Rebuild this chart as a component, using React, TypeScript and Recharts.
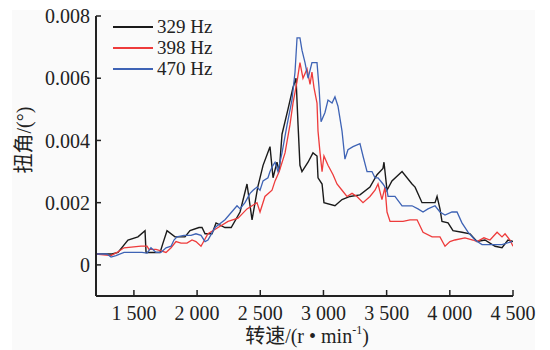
import { LineChart, Line, XAxis, YAxis, Legend, Label } from "recharts";

// rpm, torsion angle (°)
const hz329: [number, number][] = [
  [1200, 0.00035], [1327, 0.00035], [1374, 0.0004], [1453, 0.0008], [1532, 0.0009],
  [1588, 0.0011], [1596, 0.0004], [1707, 0.0004], [1730, 0.0007], [1762, 0.0011],
  [1825, 0.0009], [1904, 0.0009], [1944, 0.0011], [2015, 0.0012], [2039, 0.0012],
  [2063, 0.001], [2118, 0.001], [2150, 0.00135], [2220, 0.0012], [2270, 0.0012],
  [2340, 0.0017], [2395, 0.0026], [2435, 0.00145], [2480, 0.0025], [2522, 0.0032],
  [2577, 0.0038], [2601, 0.0028], [2632, 0.0033], [2650, 0.003], [2672, 0.0042],
  [2719, 0.005], [2759, 0.0057], [2783, 0.006], [2799, 0.0045], [2814, 0.0032],
  [2830, 0.003], [2878, 0.0033], [2917, 0.0036], [2949, 0.0035], [2957, 0.0028],
  [2989, 0.0026], [3004, 0.002], [3091, 0.0019], [3147, 0.0021], [3210, 0.0022],
  [3289, 0.00225], [3368, 0.0025], [3424, 0.0029], [3471, 0.0031], [3479, 0.0033],
  [3503, 0.0024], [3542, 0.0027], [3622, 0.003], [3701, 0.0026], [3725, 0.0025],
  [3780, 0.002], [3883, 0.002], [3899, 0.0022], [3922, 0.0018], [3938, 0.0014],
  [3986, 0.00135], [4025, 0.0011], [4096, 0.00105], [4160, 0.001], [4215, 0.00075],
  [4278, 0.0008], [4358, 0.0006], [4413, 0.00055], [4460, 0.0008], [4500, 0.00075],
];

const hz398: [number, number][] = [
  [1200, 0.00035], [1319, 0.0003], [1366, 0.0004], [1422, 0.00055], [1556, 0.0006],
  [1604, 0.0006], [1619, 0.0005], [1675, 0.0005], [1714, 0.00045], [1754, 0.0004],
  [1794, 0.00055], [1833, 0.00075], [1873, 0.0007], [1920, 0.0007], [1960, 0.0008],
  [1991, 0.00075], [2031, 0.0006], [2086, 0.001], [2166, 0.0012], [2245, 0.0014],
  [2324, 0.0015], [2395, 0.0018], [2435, 0.0019], [2474, 0.002], [2498, 0.0017],
  [2537, 0.0022], [2593, 0.0024], [2617, 0.0027], [2650, 0.003], [2696, 0.0036],
  [2735, 0.0045], [2759, 0.0052], [2791, 0.0059], [2814, 0.0065], [2838, 0.006],
  [2870, 0.0063], [2894, 0.0058], [2909, 0.0062], [2925, 0.0057], [2949, 0.0052],
  [2957, 0.0043], [2973, 0.0036], [2989, 0.003], [3004, 0.0035], [3036, 0.0032],
  [3076, 0.0029], [3107, 0.0026], [3147, 0.0024], [3186, 0.0022], [3226, 0.0023],
  [3265, 0.0022], [3313, 0.002], [3368, 0.0022], [3408, 0.0024], [3432, 0.0026],
  [3463, 0.0021], [3487, 0.0025], [3503, 0.0017], [3527, 0.0014], [3582, 0.0014],
  [3630, 0.0014], [3685, 0.00145], [3741, 0.00145], [3788, 0.00105], [3860, 0.0009],
  [3922, 0.0009], [3962, 0.0006], [4001, 0.00075], [4040, 0.0008], [4120, 0.00087],
  [4183, 0.0008], [4215, 0.00075], [4270, 0.00087], [4318, 0.0008], [4374, 0.00105],
  [4413, 0.0009], [4437, 0.001], [4476, 0.0008], [4500, 0.0006],
];

const hz470: [number, number][] = [
  [1200, 0.00035], [1287, 0.00035], [1319, 0.00025], [1358, 0.0003], [1422, 0.0004],
  [1564, 0.0004], [1604, 0.00038], [1635, 0.00055], [1675, 0.0004], [1714, 0.0004],
  [1754, 0.00055], [1794, 0.0006], [1817, 0.0008], [1841, 0.0009], [1896, 0.00095],
  [1952, 0.00095], [1991, 0.001], [2031, 0.00095], [2063, 0.00075], [2086, 0.0008],
  [2142, 0.0012], [2221, 0.00145], [2316, 0.0019], [2340, 0.0018], [2379, 0.002],
  [2419, 0.0023], [2443, 0.0024], [2474, 0.0025], [2498, 0.0024], [2522, 0.0027],
  [2561, 0.0028], [2577, 0.003], [2601, 0.0032], [2617, 0.0033], [2640, 0.003],
  [2672, 0.0036], [2712, 0.0045], [2751, 0.0053], [2775, 0.0062], [2791, 0.0073],
  [2814, 0.0073], [2830, 0.0069], [2854, 0.0065], [2878, 0.006], [2909, 0.0065],
  [2949, 0.0065], [2965, 0.0057], [2981, 0.0046], [3012, 0.0049], [3036, 0.0053],
  [3068, 0.0052], [3091, 0.0054], [3115, 0.0051], [3147, 0.0043], [3170, 0.0034],
  [3194, 0.0037], [3234, 0.0038], [3289, 0.0039], [3313, 0.0035], [3345, 0.003],
  [3384, 0.003], [3408, 0.0028], [3432, 0.0028], [3471, 0.0026], [3503, 0.0024],
  [3511, 0.0022], [3566, 0.0022], [3622, 0.0019], [3701, 0.0019], [3748, 0.0018],
  [3788, 0.0017], [3827, 0.0018], [3883, 0.0019], [3922, 0.0017], [3962, 0.0016],
  [4017, 0.0017], [4057, 0.0017], [4096, 0.00135], [4144, 0.00105], [4199, 0.0008],
  [4255, 0.00065], [4334, 0.00065], [4413, 0.00065], [4492, 0.00075],
];

const xTicks = [1500, 2000, 2500, 3000, 3500, 4000, 4500];
const yTicks = [0, 0.002, 0.004, 0.006, 0.008];

const FONT = "'Liberation Serif', 'Noto Sans CJK SC', serif";
const INK = "#222";

const toPoints = (arr: [number, number][]) => arr.map(([rpm, deg]) => ({ rpm, deg }));

const fmtX = (v: number) => {
  const s = String(v);
  return s.slice(0, s.length - 3) + " " + s.slice(-3);
};
const fmtY = (v: number) => (v === 0 ? "0" : v.toFixed(3));

function LegendBox({ payload }: any) {
  return (
    <div style={{ fontFamily: FONT, fontSize: 19, color: INK, lineHeight: "21px" }}>
      {(payload || []).map((p: any) => (
        <div key={p.value} style={{ display: "flex", alignItems: "center", height: 21 }}>
          <span
            style={{
              display: "inline-block",
              width: 40,
              height: 2,
              background: p.color,
              marginRight: 4,
            }}
          />
          <span>{p.value}</span>
        </div>
      ))}
    </div>
  );
}

function YTitle() {
  return (
    <text
      x={24}
      y={140}
      transform="rotate(-90 24 140)"
      textAnchor="middle"
      dominantBaseline="central"
      fontFamily={FONT}
      fontSize={20}
      fill={INK}
    >
      扭角/(°)
    </text>
  );
}

function XTitle() {
  return (
    <text x={307} y={343} textAnchor="middle" fontFamily={FONT} fontSize={20} fill={INK}>
      转速/(r • min
      <tspan dy={-9} fontSize={12}>
        -1
      </tspan>
      <tspan dy={9}>)</tspan>
    </text>
  );
}

export default function App() {
  const tick = { fill: INK, fontSize: 20, fontFamily: FONT };
  return (
    <div style={{ position: "absolute", left: 0, top: 0, width: 550, height: 350, background: "#fff" }}>
      <div style={{ position: "absolute", left: 12, top: 10, width: 523, height: 340, background: "#fafafa" }} />
      <div style={{ position: "absolute", left: 0, top: 0 }}>
        <LineChart width={550} height={350} margin={{ top: 16, right: 37, bottom: 14, left: 16 }}>
          <XAxis
            type="number"
            dataKey="rpm"
            domain={[1200, 4500]}
            ticks={xTicks}
            tickFormatter={fmtX}
            allowDataOverflow
            height={40}
            tick={tick}
            tickSize={-6}
            tickMargin={16}
            axisLine={{ stroke: INK, strokeWidth: 2 }}
            tickLine={{ stroke: INK, strokeWidth: 1.5 }}
          >
            <Label content={<XTitle />} />
          </XAxis>
          <YAxis
            type="number"
            dataKey="deg"
            domain={[-0.001, 0.008]}
            ticks={yTicks}
            tickFormatter={fmtY}
            allowDataOverflow
            width={80}
            tick={tick}
            tickSize={-5}
            tickMargin={11}
            axisLine={{ stroke: INK, strokeWidth: 2 }}
            tickLine={{ stroke: INK, strokeWidth: 1.5 }}
          >
            <Label content={<YTitle />} />
          </YAxis>
          <Legend
            layout="vertical"
            align="center"
            verticalAlign="middle"
            wrapperStyle={{ left: 113, top: 16, width: "auto" }}
            content={<LegendBox />}
          />
          <Line
            data={toPoints(hz329)}
            dataKey="deg"
            name="329 Hz"
            type="linear"
            stroke="#1a1a1a"
            strokeWidth={1.4}
            dot={false}
            isAnimationActive={false}
          />
          <Line
            data={toPoints(hz398)}
            dataKey="deg"
            name="398 Hz"
            type="linear"
            stroke="#ee3b3b"
            strokeWidth={1.3}
            dot={false}
            isAnimationActive={false}
          />
          <Line
            data={toPoints(hz470)}
            dataKey="deg"
            name="470 Hz"
            type="linear"
            stroke="#3e63b5"
            strokeWidth={1.3}
            dot={false}
            isAnimationActive={false}
          />
        </LineChart>
      </div>
    </div>
  );
}
